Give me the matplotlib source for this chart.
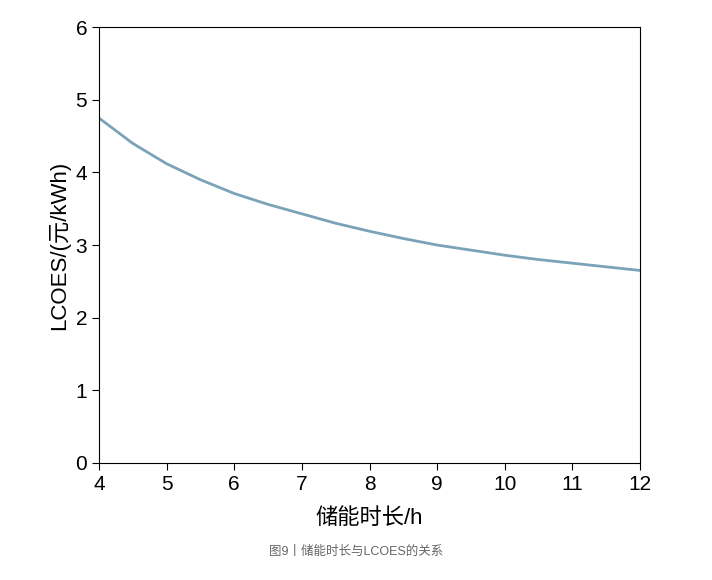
import matplotlib
matplotlib.use("Agg")
import matplotlib.pyplot as plt

plt.rcParams['font.family'] = ['Liberation Sans', 'Noto Sans CJK SC', 'DejaVu Sans']

hours = [4, 4.5, 5, 5.5, 6, 6.5, 7, 7.5, 8, 8.5, 9, 9.5, 10, 10.5, 11, 11.5, 12]
lcoes = [4.75, 4.40, 4.12, 3.90, 3.71, 3.56, 3.43, 3.30, 3.19, 3.09, 3.00, 2.93, 2.86, 2.80, 2.75, 2.70, 2.65]
xticks = list(range(4, 13))
yticks = list(range(0, 7))

fig = plt.figure(figsize=(7.12, 5.80), dpi=100)
ax = fig.add_axes([0.139, 0.202, 0.760, 0.751])
ax.plot(hours, lcoes, color='#7aa3b8', lw=2)
ax.set_xlim(4, 12)
ax.set_ylim(0, 6)
ax.set_xticks(xticks)
ax.set_yticks(yticks)
ax.tick_params(labelsize=15, direction='out', length=5)
ax.set_xlabel('储能时长/h', fontsize=16, labelpad=10)
ax.set_ylabel('LCOES/(元/kWh)', fontsize=16)
fig.text(0.5, 0.043, '图9丨储能时长与LCOES的关系', ha='center', fontsize=9, color='#666666')
fig.savefig('out.png', dpi=100)
